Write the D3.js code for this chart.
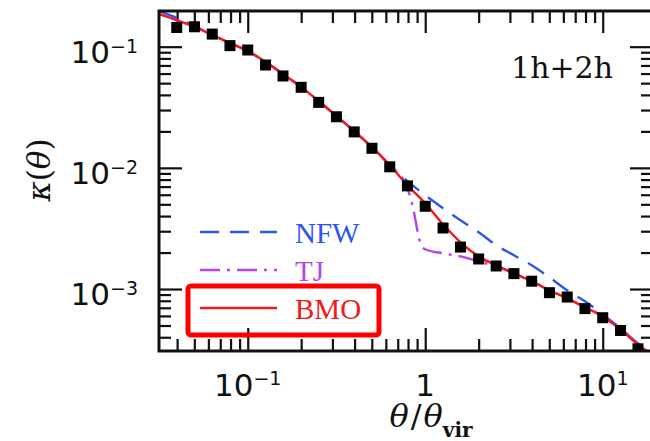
<!DOCTYPE html>
<html>
<head>
<meta charset="utf-8">
<script src="https://cdn.jsdelivr.net/npm/d3@7"></script>
<style>
html,body{margin:0;padding:0;background:#fff;}
svg{display:block;}
</style>
</head>
<body>
<svg id="chart" width="650" height="441"></svg>
<script>
// ---- data ----
const thetaData = [0.0398,0.0501,0.0631,0.0794,0.1,0.126,0.158,0.2,0.251,0.316,0.398,0.501,0.631,0.794,1.0,1.26,1.58,2.0,2.51,3.16,3.98,5.01,6.31,7.94,10.0,12.6,15.8];
const kappaData = [0.144,0.146,0.127,0.102,0.0939,0.0706,0.0573,0.0462,0.0347,0.0264,0.0198,0.0145,0.0102,0.0071,0.00482,0.00319,0.00222,0.00177,0.00155,0.00134,0.00116,0.000933,0.000859,0.000689,0.00058,0.000455,0.000321];

const thetaLine = [0.0316,0.0398,0.0501,0.0631,0.0794,0.1,0.126,0.158,0.2,0.251,0.316,0.398,0.501,0.631,0.794,1.0,1.26,1.58,2.0,2.51,3.16,3.98,5.01,6.31,7.94,10.0,12.6,15.8,20.0];
const kappaBMO = [0.186,0.166,0.146,0.125,0.107,0.0921,0.0748,0.0595,0.0464,0.0356,0.0267,0.0201,0.0148,0.01052,0.00719,0.00511,0.00342,0.00243,0.00186,0.00157,0.00135,0.00116,0.000975,0.000838,0.000706,0.000594,0.000464,0.000349,0.000272];
const kappaNFW = [0.197,0.173,0.148,0.125,0.107,0.0921,0.0748,0.0595,0.0464,0.0356,0.0267,0.0201,0.0148,0.01052,0.00776,0.00594,0.00464,0.00369,0.00294,0.00230,0.00190,0.00157,0.00125,0.000975,0.000791,0.000618,0.000473,0.000356,0.000278];

const thetaTJ = [0.0316,0.0398,0.0501,0.0631,0.0794,0.1,0.126,0.158,0.2,0.251,0.316,0.398,0.501,0.631,0.794,0.841,0.955,1.0,1.26,1.58,2.0,2.51,3.16,3.98,5.01,6.31,7.94,10.0,12.6,15.8,20.0];
const kappaTJ = [0.186,0.166,0.146,0.125,0.107,0.0921,0.0748,0.0595,0.0464,0.0356,0.0267,0.0201,0.0148,0.01052,0.00679,0.00511,0.00225,0.00213,0.00197,0.00186,0.00169,0.00154,0.00135,0.00116,0.000975,0.000838,0.000706,0.000594,0.000464,0.000349,0.000272];

const legendNames = ["NFW","TJ","BMO"];
const legendColors = ["#2f55f0","#b445ee","#f01a1a"];
const legendDash = ["19,11","20,7,3,7",null];

const xTickLabels = [{v:0.1, base:"10", exp:"\u22121"},{v:1, base:"1", exp:""},{v:10, base:"10", exp:"1"}];
const yTickLabels = [{v:0.1, base:"10", exp:"\u22121"},{v:0.01, base:"10", exp:"\u22122"},{v:0.001, base:"10", exp:"\u22123"}];
const panelLabel = "1h+2h";

// ---- layout ----
const L = 159, R = 653, T = 11, B = 351;
const svg = d3.select("#chart");

const x = d3.scaleLog().domain([0.031623, 19.2]).range([L, R]);
const y = d3.scaleLog().domain([3.08e-4, 0.197]).range([B, T]);

const isMajor = v => Math.abs(Math.log10(v) - Math.round(Math.log10(v))) < 1e-6;
const xt = x.ticks().filter(v => v >= x.domain()[0] && v <= x.domain()[1]);
const yt = y.ticks().filter(v => v >= y.domain()[0] && v <= y.domain()[1]);

svg.append("defs").append("clipPath").attr("id","plotclip")
  .append("rect").attr("x",L).attr("y",T).attr("width",R-L).attr("height",B-T);

// ---- ticks via d3 axes ----
function styleAxis(g, attr, majorLen, minorLen, sign){
  g.select(".domain").remove();
  g.selectAll(".tick line")
    .attr(attr, d => sign * (isMajor(d) ? majorLen : minorLen))
    .attr("stroke","#111").attr("stroke-width",2.2);
  g.selectAll(".tick text").remove();
}
svg.append("g").attr("transform",`translate(0,${B})`)
  .call(d3.axisBottom(x).tickValues(xt).tickFormat(""))
  .call(g => styleAxis(g,"y2",23,12,-1));
svg.append("g").attr("transform",`translate(0,${T})`)
  .call(d3.axisTop(x).tickValues(xt).tickFormat(""))
  .call(g => styleAxis(g,"y2",22,12,1));
svg.append("g").attr("transform",`translate(${L},0)`)
  .call(d3.axisLeft(y).tickValues(yt).tickFormat(""))
  .call(g => styleAxis(g,"x2",23,12,1));
svg.append("g").attr("transform",`translate(${R},0)`)
  .call(d3.axisRight(y).tickValues(yt).tickFormat(""))
  .call(g => styleAxis(g,"x2",23,12,-1));

// ---- curves ----
const plot = svg.append("g").attr("clip-path","url(#plotclip)");
const line = d3.line().x(d => x(d[0])).y(d => y(d[1])).curve(d3.curveMonotoneX);

const series = [
  {name:"NFW", xs: thetaLine, ys: kappaNFW},
  {name:"TJ",  xs: thetaTJ,   ys: kappaTJ},
  {name:"BMO", xs: thetaLine, ys: kappaBMO}
];
series.forEach((s,i) => {
  plot.append("path")
    .datum(d3.zip(s.xs, s.ys))
    .attr("d", line)
    .attr("fill","none")
    .attr("stroke", legendColors[i])
    .attr("stroke-width", 2.4)
    .attr("stroke-dasharray", legendDash[i]);
});

// ---- data points ----
const sq = 11;
plot.selectAll("rect.pt").data(d3.zip(thetaData, kappaData)).join("rect")
  .attr("class","pt")
  .attr("x", d => x(d[0]) - sq/2)
  .attr("y", d => y(d[1]) - sq/2)
  .attr("width", sq).attr("height", sq)
  .attr("fill","#000");

// ---- frame ----
svg.append("rect").attr("x",L).attr("y",T).attr("width",R-L).attr("height",B-T)
  .attr("fill","none").attr("stroke","#111").attr("stroke-width",3);

// ---- tick labels ----
const tickFont = "'DejaVu Sans', sans-serif";
xTickLabels.forEach(t => {
  const tx = svg.append("text").attr("x", x(t.v)).attr("y", 396)
    .attr("text-anchor","middle").attr("font-family",tickFont).attr("font-size",31).attr("fill","#111");
  tx.append("tspan").text(t.base);
  if (t.exp) tx.append("tspan").attr("dy",-11).attr("font-size",19).text(t.exp);
});
yTickLabels.forEach(t => {
  const tx = svg.append("text").attr("x", 138).attr("y", y(t.v) + 16)
    .attr("text-anchor","end").attr("font-family",tickFont).attr("font-size",31).attr("fill","#111");
  tx.append("tspan").text(t.base);
  if (t.exp) tx.append("tspan").attr("dy",-10).attr("font-size",19).text(t.exp);
});

// ---- axis titles ----
const serif = "'DejaVu Serif', serif";
const xt1 = svg.append("text").attr("x", 431).attr("y", 427)
  .attr("text-anchor","middle").attr("font-family",serif).attr("font-size",32).attr("fill","#111");
xt1.append("tspan").attr("font-style","italic").text("θ");
xt1.append("tspan").attr("dx",2).text("/");
xt1.append("tspan").attr("dx",2).attr("font-style","italic").text("θ");
xt1.append("tspan").attr("dy",10).attr("font-size",20).attr("font-weight","bold").text("vir");

const yt1 = svg.append("text").attr("transform","translate(50,170) rotate(-90)")
  .attr("text-anchor","middle").attr("font-family",serif).attr("font-size",31).attr("fill","#111");
yt1.append("tspan").attr("font-style","italic").text("κ");
yt1.append("tspan").text("(");
yt1.append("tspan").attr("font-style","italic").text("θ");
yt1.append("tspan").text(")");

// ---- panel label ----
svg.append("text").attr("x", 613).attr("y", 78).attr("text-anchor","end")
  .attr("font-family",serif).attr("font-size",30).attr("fill","#111").text(panelLabel);

// ---- legend ----
const legY = [232, 270, 308];
legendNames.forEach((n,i) => {
  svg.append("line").attr("x1",200).attr("x2",277).attr("y1",legY[i]).attr("y2",legY[i])
    .attr("stroke",legendColors[i]).attr("stroke-width",2.4).attr("stroke-dasharray",legendDash[i]);
  svg.append("text").attr("x",295).attr("y",legY[i]+11)
    .attr("font-family","'Liberation Serif', serif").attr("font-size",29)
    .attr("fill",legendColors[i]).text(n);
});
svg.append("rect").attr("x",188).attr("y",286).attr("width",191).attr("height",49).attr("rx",3)
  .attr("fill","none").attr("stroke","#ff0000").attr("stroke-width",5);
</script>
</body>
</html>
